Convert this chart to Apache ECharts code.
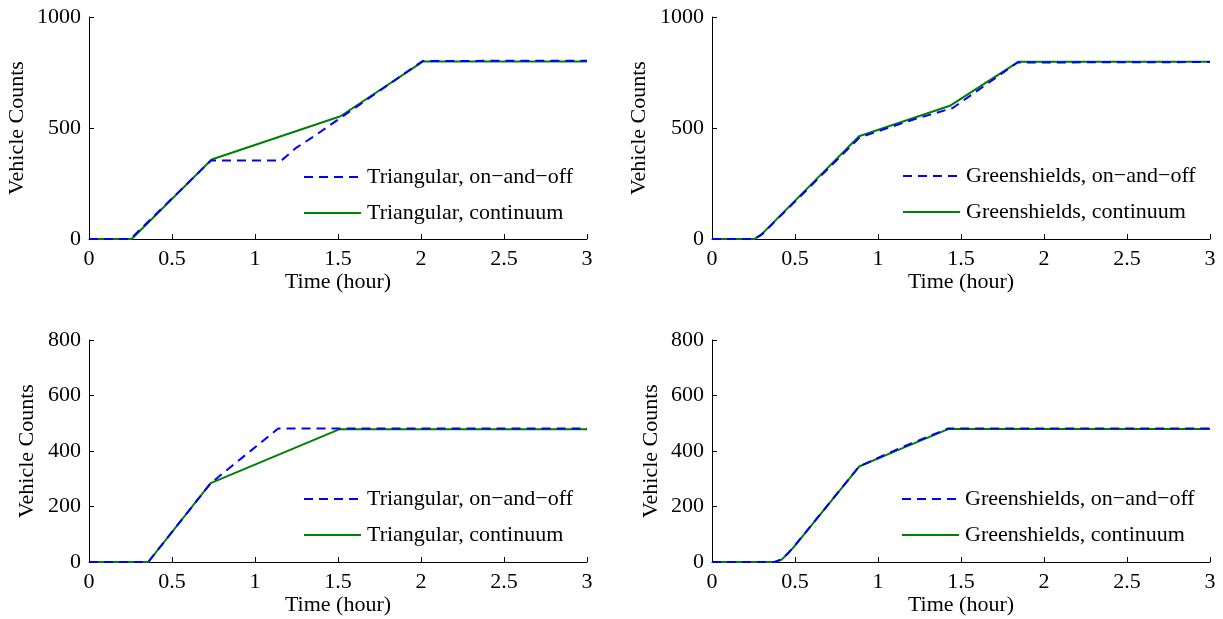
<!DOCTYPE html>
<html>
<head>
<meta charset="utf-8">
<script src="https://cdn.jsdelivr.net/npm/echarts@6/dist/echarts.min.js"></script>
<style>
html,body{margin:0;padding:0;background:#fff;}
#chart{width:1223px;height:619px;}
</style>
</head>
<body>
<div id="chart"></div>
<script>
// ---- Data ----
// Panel 1 (top-left): Triangular
var p1OnOffT = [0, 0.25, 0.735, 1.16, 1.25, 1.35, 1.52, 2.01, 3];
var p1OnOffV = [0, 0, 354, 354, 412, 460, 548, 802, 803];
var p1ContT  = [0, 0.257, 0.739, 1.515, 2.013, 3];
var p1ContV  = [0, 0, 358, 553, 800, 800];
// Panel 2 (top-right): Greenshields
var p2OnOffT = [0, 0.255, 0.3, 0.89, 1.2, 1.45, 1.84, 3];
var p2OnOffV = [0, 0, 20, 458, 535, 590, 795, 797];
var p2ContT  = [0, 0.255, 0.3, 0.886, 1.433, 1.845, 3];
var p2ContV  = [0, 0, 22, 463, 600, 798, 798];
// Panel 3 (bottom-left): Triangular
var p3OnOffT = [0, 0.357, 0.733, 1.14, 3];
var p3OnOffV = [0, 0, 284, 481, 481];
var p3ContT  = [0, 0.357, 0.733, 1.507, 3];
var p3ContV  = [0, 0, 284, 478, 478];
// Panel 4 (bottom-right): Greenshields
var p4OnOffT = [0, 0.378, 0.42, 0.46, 0.5, 0.886, 1.13, 1.423, 3];
var p4OnOffV = [0, 0, 10, 33, 60, 344, 410, 481, 481];
var p4ContT  = [0, 0.378, 0.42, 0.46, 0.5, 0.886, 1.13, 1.423, 3];
var p4ContV  = [0, 0, 9, 32, 59, 344, 406, 479, 479];

var xTicks = [0, 0.5, 1, 1.5, 2, 2.5, 3];
var yMaxTop = 1000, yIntTop = 500;
var yMaxBot = 800, yIntBot = 200;

var names = {
  tri: ['Triangular, on\u2212and\u2212off', 'Triangular, continuum'],
  gs:  ['Greenshields, on\u2212and\u2212off', 'Greenshields, continuum']
};

function pairs(t, v) { return t.map(function (x, i) { return [x, v[i]]; }); }

var FONT = 'Liberation Serif';
var FS = 22;

var grids = [
  {left: 89,  top: 17,  width: 498, height: 222},
  {left: 712, top: 17,  width: 498, height: 222},
  {left: 89,  top: 340, width: 498, height: 222},
  {left: 712, top: 340, width: 498, height: 222}
];

function xAxis(i) {
  return {
    gridIndex: i, type: 'value', min: 0, max: 3, interval: 0.5,
    name: 'Time (hour)', nameLocation: 'middle', nameGap: 32,
    nameTextStyle: {fontFamily: FONT, fontSize: FS, color: '#000'},
    axisLine: {show: true, onZero: false, lineStyle: {color: '#000', width: 1}},
    axisTick: {show: true, inside: true, length: 5, lineStyle: {color: '#000'}},
    axisLabel: {fontFamily: FONT, fontSize: FS, color: '#000', margin: 9,
      formatter: function (v) { return String(v); }},
    splitLine: {show: false}
  };
}
function yAxis(i, max, interval, gap) {
  return {
    gridIndex: i, type: 'value', min: 0, max: max, interval: interval,
    name: 'Vehicle Counts', nameLocation: 'middle', nameGap: gap,
    nameTextStyle: {fontFamily: FONT, fontSize: FS, color: '#000'},
    axisLine: {show: true, lineStyle: {color: '#000', width: 1}},
    axisTick: {show: true, inside: true, length: 5, lineStyle: {color: '#000'}},
    axisLabel: {fontFamily: FONT, fontSize: FS, color: '#000', margin: 8,
      formatter: function (v) { return String(v); }},
    splitLine: {show: false}
  };
}

function lineSeries(name, i, data, dashed) {
  return {
    name: name, type: 'line', xAxisIndex: i, yAxisIndex: i,
    data: data, symbol: 'none', animation: false,
    lineStyle: dashed
      ? {color: '#0000ff', width: 2, type: [9, 6]}
      : {color: '#008000', width: 2, type: 'solid'},
    itemStyle: {color: dashed ? '#0000ff' : '#008000'},
    z: dashed ? 3 : 2
  };
}

var series = [
  lineSeries(names.tri[0], 0, pairs(p1OnOffT, p1OnOffV), true),
  lineSeries(names.tri[1], 0, pairs(p1ContT, p1ContV), false),
  lineSeries(names.gs[0] + ' ', 1, pairs(p2OnOffT, p2OnOffV), true),
  lineSeries(names.gs[1] + ' ', 1, pairs(p2ContT, p2ContV), false),
  lineSeries(names.tri[0] + '\u200b', 2, pairs(p3OnOffT, p3OnOffV), true),
  lineSeries(names.tri[1] + '\u200b', 2, pairs(p3ContT, p3ContV), false),
  lineSeries(names.gs[0] + '\u200b ', 3, pairs(p4OnOffT, p4OnOffV), true),
  lineSeries(names.gs[1] + '\u200b ', 3, pairs(p4ContT, p4ContV), false)
];

function legend(left, top, dataNames) {
  return {
    orient: 'vertical', left: left, top: top, padding: 0,
    itemWidth: 57, itemHeight: 20, itemGap: 14,
    selectedMode: false,
    data: dataNames,
    itemStyle: {opacity: 0},
    textStyle: {fontFamily: FONT, fontSize: FS, color: '#000', lineHeight: 20, padding: [0, 0, 0, 1]},
    formatter: function (n) { return n.replace(/[\u200b ]+$/, ''); }
  };
}

var option = {
  backgroundColor: '#fff',
  animation: false,
  grid: grids,
  xAxis: [xAxis(0), xAxis(1), xAxis(2), xAxis(3)],
  yAxis: [yAxis(0, yMaxTop, yIntTop, 61), yAxis(1, yMaxTop, yIntTop, 62),
          yAxis(2, yMaxBot, yIntBot, 51), yAxis(3, yMaxBot, yIntBot, 50)],
  legend: [
    legend(303, 166, [series[0].name, series[1].name]),
    legend(902, 165, [series[2].name, series[3].name]),
    legend(303, 488, [series[4].name, series[5].name]),
    legend(901, 488, [series[6].name, series[7].name])
  ],
  series: series
};

var chart = echarts.init(document.getElementById('chart'), null, {renderer: 'canvas'});
chart.setOption(option);
</script>
</body>
</html>
